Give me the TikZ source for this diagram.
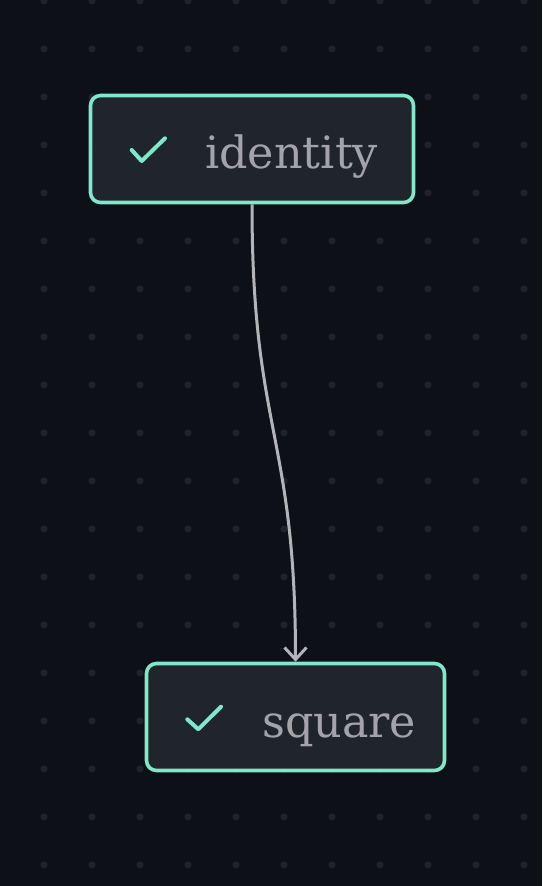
\documentclass[tikz,border=0pt]{standalone}
\usepackage{fontspec}
\setmainfont{DejaVu Serif}
\usetikzlibrary{arrows.meta}
\definecolor{bgc}{HTML}{0D1117}
\definecolor{dotc}{HTML}{1E232A}
\definecolor{boxfill}{HTML}{1F252B}
\definecolor{mint}{HTML}{7EE8C8}
\definecolor{txtc}{HTML}{A4A4A8}
\definecolor{edgec}{HTML}{B4B4B8}
\tikzset{
  taskbox/.style={draw=mint, fill=boxfill, line width=3.6pt, rounded corners=10pt, minimum height=107pt, inner sep=0pt},
  tasklabel/.style={anchor=base west, inner sep=0pt, text=txtc, font=\fontsize{44.5}{50}\selectfont},
  checkmk/.style={draw=mint, line width=4pt, line cap=round, line join=round},
  flow/.style={draw=edgec, line width=3pt, -{Straight Barb[length=12pt,width=22pt,line width=3pt]}},
}
\begin{document}
\begin{tikzpicture}[x=1pt,y=-1pt]
\useasboundingbox (0,0) rectangle (542,886);
\fill[bgc] (0,0) rectangle (542,886);
\foreach \x in {44,92,...,524} \foreach \y in {1,49,...,865} \fill[dotc] (\x,\y) circle (3.6pt);
\node[taskbox, minimum width=323pt] (identity) at (252,149) {};
\node[taskbox, minimum width=298pt] (square) at (295.5,717) {};
\node[tasklabel] (identityl) at (205,168) {identity};
\node[tasklabel] (squarel) at (262,737) {square};
\coordinate (c1a) at (131.7,150);
\coordinate (c1b) at (141.7,161);
\coordinate (c1c) at (165,138.3);
\draw[checkmk] (c1a) -- (c1b) -- (c1c);
\coordinate (c2a) at (187.3,719.3);
\coordinate (c2b) at (198.3,729.3);
\coordinate (c2c) at (221,706.7);
\draw[checkmk] (c2a) -- (c2b) -- (c2c);
\draw[flow] (identity.south) .. controls (252,433) and (295.5,433) .. (square.north);
\end{tikzpicture}
\end{document}
